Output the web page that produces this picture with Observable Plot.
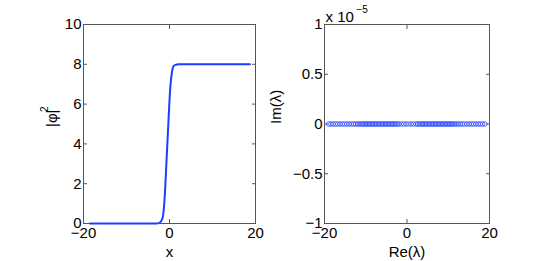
<!DOCTYPE html>
<html>
<head>
<meta charset="utf-8">
<script src="https://cdn.jsdelivr.net/npm/d3@7"></script>
<script src="https://cdn.jsdelivr.net/npm/@observablehq/plot@0.6"></script>
<style>
  body { margin: 0; background: #fff; }
  #wrap { position: relative; width: 545px; height: 261px; font-family: "Liberation Sans", Arial, sans-serif; }
  #left, #right { position: absolute; top: 0; }
  #left { left: 0; }
  #right { left: 255px; }
</style>
</head>
<body>
<div id="wrap"><div id="left"></div><div id="right"></div></div>
<script>
// Left panel: |phi|^2 profile
const profileX = [-18.5, -10, -3, -2.5, -2, -1.75, -1.5, -1.25, -1, -0.75, -0.5, -0.25, 0, 0.25, 0.5, 0.75, 1, 1.5, 2, 3, 10, 18.7];
const profileY = [0, 0, 0, 0.02, 0.1, 0.2, 0.4, 0.9, 1.8, 2.9, 4.0, 5.1, 6.2, 7.0, 7.5, 7.8, 7.92, 7.98, 8, 8, 8, 8];
const leftXTicks = [-20, 0, 20];
const leftYTicks = [0, 2, 4, 6, 8, 10];

// Right panel: eigenvalues (Re, Im in units of 1e-5)
const eigRe = [-19, -18.45, -17.9, -17.35, -16.8, -16.25, -15.7, -15.15, -14.6, -14.05, -13.5, -12.95,
  -12.45, -12.0, -11.6, -11.2, -10.8, -10.45, -10.1, -9.75, -9.4, -9.05, -8.7, -8.35, -8.0, -7.65,
  -7.3, -6.95, -6.6, -6.25, -5.9, -5.55, -5.2, -4.85, -4.5, -4.15, -3.8, -3.45, -3.1, -2.75, -2.4,
  -2.0, -1.4, -0.8, -0.2, 0.4, 1.0, 1.6, 2.2, 2.6, 3.0, 3.4, 3.75, 4.1, 4.45, 4.8, 5.15, 5.5, 5.85,
  6.2, 6.55, 6.9, 7.25, 7.6, 7.95, 8.3, 8.65, 9.0, 9.35, 9.7, 10.05, 10.4, 10.75, 11.1, 11.5, 11.9,
  12.35, 12.85, 13.4, 13.95, 14.5, 15.05, 15.6, 16.15, 16.7, 17.25, 17.8, 18.35, 18.9];
const eigIm = eigRe.map(() => 0);
const rightXTicks = [-20, 0, 20];
const rightYTicks = [-1, -0.5, 0, 0.5, 1];

const font = "Liberation Sans, Arial, sans-serif";
const axisColor = "#555";
const blue = "#1f3dff";
const minus = d => d < 0 ? "\u2212" + Math.abs(d) : String(d);

const profile = profileX.map((x, i) => ({x, y: profileY[i]}));
const eigs = eigRe.map((re, i) => ({re, im: eigIm[i]}));

const left = Plot.plot({
  width: 255, height: 261,
  marginLeft: 83, marginRight: 0, marginTop: 24, marginBottom: 38,
  style: {fontFamily: font, fontSize: "15px", color: "#000", background: "transparent", overflow: "visible"},
  x: {domain: [-20, 20], range: [83, 255]},
  y: {domain: [0, 10]},
  marks: [
    Plot.frame({stroke: axisColor}),
    Plot.axisX(leftXTicks, {anchor: "bottom", tickSize: -4, tickPadding: 8, stroke: axisColor, fill: "#000", tickFormat: minus, label: null}),
    Plot.axisX(leftXTicks, {anchor: "top", tickSize: -4, text: null, stroke: axisColor, label: null}),
    Plot.axisY(leftYTicks, {anchor: "left", tickSize: -4, tickPadding: 6, stroke: axisColor, fill: "#000", label: null}),
    Plot.axisY(leftYTicks, {anchor: "right", tickSize: -4, text: null, stroke: axisColor, label: null}),
    Plot.line(profile, {x: "x", y: "y", stroke: blue, strokeWidth: 2, curve: "monotone-x"}),
    Plot.text(["x"], {frameAnchor: "bottom", dy: 29, lineAnchor: "middle", text: d => d, fontSize: 15}),
    Plot.text(["|\u03c6|"], {frameAnchor: "left", dx: -31, dy: 3, rotate: -90, text: d => d, fontSize: 15}),
    Plot.text(["2"], {frameAnchor: "left", dx: -39, dy: -12, rotate: -90, text: d => d, fontSize: 10})
  ]
});
document.getElementById("left").appendChild(left);

const right = Plot.plot({
  width: 290, height: 261,
  marginLeft: 69, marginRight: 56, marginTop: 24, marginBottom: 38,
  style: {fontFamily: font, fontSize: "15px", color: "#000", background: "transparent"},
  x: {domain: [-20, 20]},
  y: {domain: [-1, 1]},
  marks: [
    Plot.frame({stroke: axisColor}),
    Plot.axisX(rightXTicks, {anchor: "bottom", tickSize: -4, tickPadding: 8, stroke: axisColor, fill: "#000", tickFormat: minus, label: null}),
    Plot.axisX(rightXTicks, {anchor: "top", tickSize: -4, text: null, stroke: axisColor, label: null}),
    Plot.axisY(rightYTicks, {anchor: "left", tickSize: -4, tickPadding: 6, stroke: axisColor, fill: "#000", label: null, tickFormat: minus}),
    Plot.axisY(rightYTicks, {anchor: "right", tickSize: -4, text: null, stroke: axisColor, label: null}),
    Plot.dot(eigs, {x: "re", y: "im", r: 2.3, stroke: blue, strokeWidth: 0.7, fill: "none"}),
    Plot.text(["Re(\u03bb)"], {frameAnchor: "bottom", dy: 29, lineAnchor: "middle", text: d => d, fontSize: 15}),
    Plot.text(["Im(\u03bb)"], {frameAnchor: "left", dx: -48, rotate: -90, text: d => d, fontSize: 15}),
    Plot.text(["x 10"], {frameAnchor: "top-left", dx: 1, dy: -3, lineAnchor: "bottom", textAnchor: "start", text: d => d, fontSize: 15}),
    Plot.text(["\u22125"], {frameAnchor: "top-left", dx: 32, dy: -12, lineAnchor: "bottom", textAnchor: "start", text: d => d, fontSize: 10})
  ]
});
document.getElementById("right").appendChild(right);
</script>
</body>
</html>
